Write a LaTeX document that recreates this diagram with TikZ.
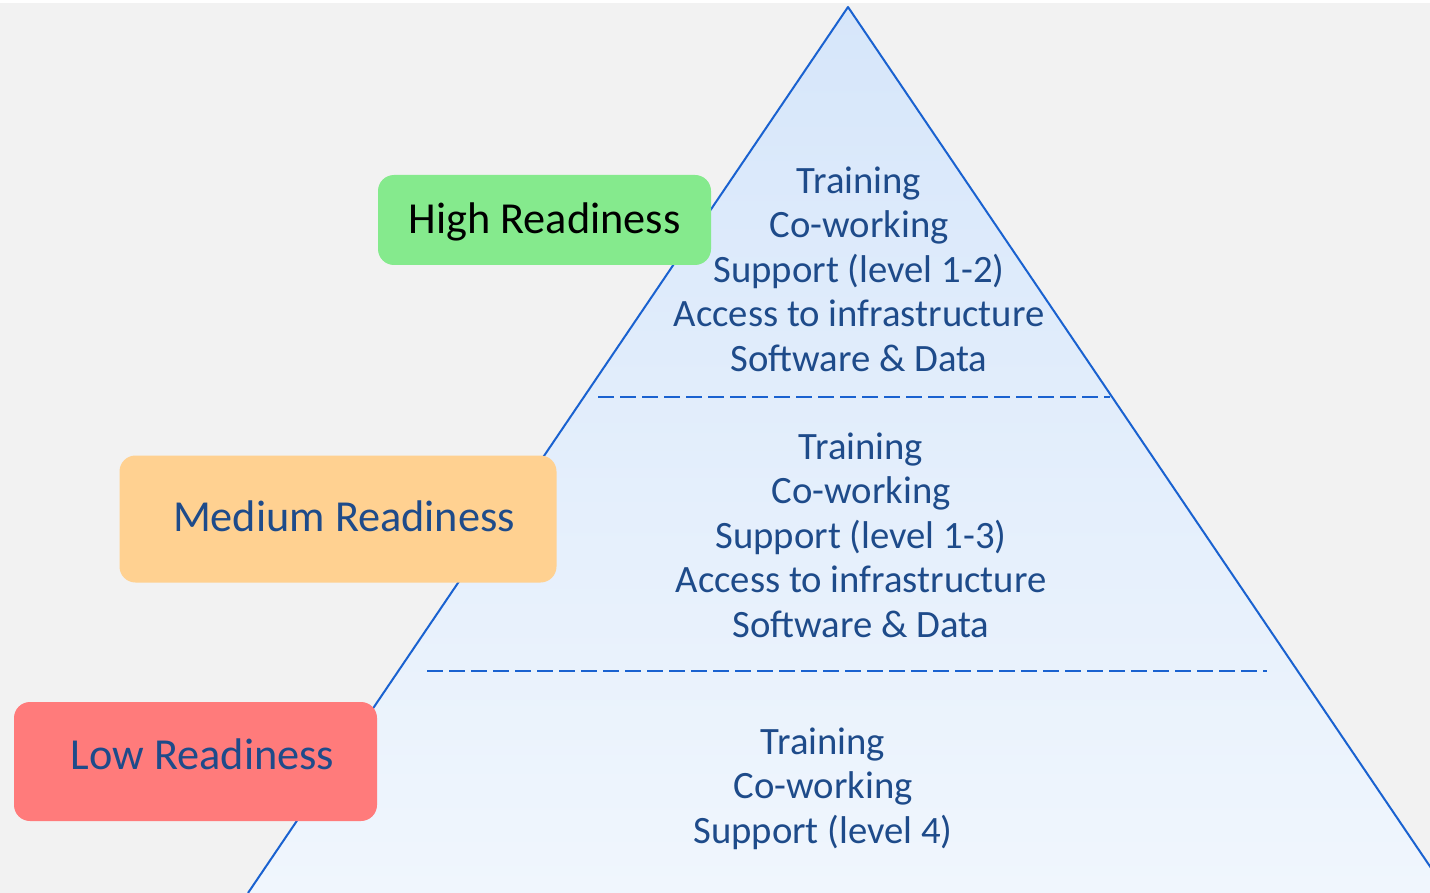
\documentclass[tikz,border=0pt]{standalone}
\usepackage{fontspec}
\setmainfont{Carlito}
\usepackage{xcolor}
\usetikzlibrary{positioning}
\definecolor{bgGray}{HTML}{F2F2F2}
\definecolor{edgeBlue}{HTML}{1A62D0}
\definecolor{inkBlue}{HTML}{1E4B8A}
\definecolor{topBlue}{HTML}{D6E6FA}
\definecolor{baseBlue}{HTML}{F0F6FD}
\definecolor{hiGreen}{HTML}{85EA8D}
\definecolor{medOrange}{HTML}{FFD191}
\definecolor{lowRed}{HTML}{FF7B7B}

\tikzset{
  tag/.style={rounded corners=16pt, inner sep=0pt, text height=28pt,
    font=\fontsize{44.3}{50}\selectfont},
  tier/.style={align=center, text=inkBlue, inner sep=0pt,
    font=\fontsize{38.7}{44.5}\selectfont},
  divider/.style={edgeBlue, line width=2.4pt, dash pattern=on 16pt off 6pt},
}

\begin{document}
\begin{tikzpicture}[x=1pt,y=-1pt]
  \useasboundingbox (0,0) rectangle (1430,893);
  \clip (0,0) rectangle (1430,893);
  \fill[white] (0,0) rectangle (1430,3);
  \fill[bgGray] (0,3) rectangle (1430,893);

  % pyramid
  \coordinate (apex) at (848,7);
  \coordinate (baseL) at (248,893);
  \coordinate (baseR) at (1448,893);
  \shade[top color=topBlue, bottom color=baseBlue] (apex) -- (baseL) -- (baseR) -- cycle;
  \draw[edgeBlue, line width=2pt, line join=round] (baseL) -- (apex) -- (baseR);

  % tier borders
  \coordinate (cutHiL) at (598,397);
  \coordinate (cutHiR) at (1110,397);
  \coordinate (cutLoL) at (427,671);
  \coordinate (cutLoR) at (1267,671);
  \draw[divider] (cutHiL) -- (cutHiR);
  \draw[divider] (cutLoL) -- (cutLoR);

  % base anchor = last line
  \node[tier, anchor=base] (tierHigh) at (859,371)
    {Training\\Co-working\\Support (level 1-2)\\Access to infrastructure\\Software \& Data};
  \node[tier, anchor=base] (tierMed) at (861,637)
    {Training\\Co-working\\Support (level 1-3)\\Access to infrastructure\\Software \& Data};
  \node[tier, anchor=base] (tierLow) at (823,843)
    {Training\\Co-working\\Support (level 4)};

  % readiness tags
  \node[tag, fill=hiGreen, text=black, text depth=0pt,
    minimum width=333pt, minimum height=90pt] (tagHigh) at (544.5,220) {High Readiness};
  \node[tag, fill=medOrange, text=inkBlue, text depth=4pt,
    minimum width=437pt, minimum height=127pt] (tagMed) at (338,519) {\hspace*{12pt}Medium Readiness};
  \node[tag, fill=lowRed, text=inkBlue, text depth=13pt,
    minimum width=363pt, minimum height=119pt] (tagLow) at (195.5,761.5) {\hspace*{14pt}Low Readiness};
\end{tikzpicture}
\end{document}
